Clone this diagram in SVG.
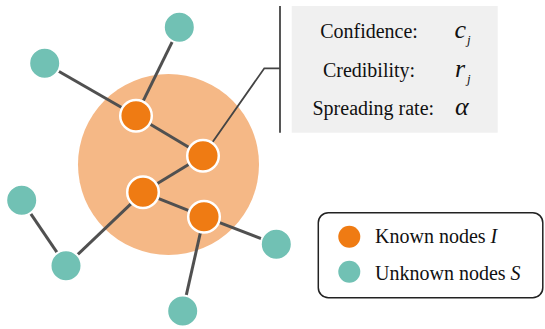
<svg xmlns="http://www.w3.org/2000/svg" width="545" height="329" viewBox="0 0 545 329">
<style>
.edge{stroke:#505050;stroke-width:3;fill:none}
.known{fill:#EF7B13;stroke:#fff;stroke-width:2.5}
.unknown{fill:#71C1B4;stroke:#fff;stroke-width:2}
.t{font-family:"Liberation Serif","Times New Roman",serif;font-size:20px;fill:#111}
.m{font-family:"Liberation Serif","Times New Roman",serif;font-style:italic;fill:#111}
</style>
<rect width="545" height="329" fill="#fff"/>
<circle id="region" cx="168.5" cy="164.5" r="90.5" fill="#F5B886"/>
<g id="connectors">
<line class="edge" x1="179.3" y1="27.3" x2="136" y2="115.7"/>
<line class="edge" x1="44.7" y1="63.3" x2="136" y2="115.7"/>
<line class="edge" x1="136" y1="115.7" x2="203" y2="155.7"/>
<line class="edge" x1="203" y1="155.7" x2="143" y2="192.3"/>
<line class="edge" x1="143" y1="192.3" x2="66" y2="265.7"/>
<line class="edge" x1="21.7" y1="200.3" x2="66" y2="265.7"/>
<line class="edge" x1="143" y1="192.3" x2="204" y2="216.7"/>
<line class="edge" x1="204" y1="216.7" x2="276.3" y2="244.3"/>
<line class="edge" x1="204" y1="216.7" x2="182.7" y2="311"/>
<polyline points="203,155.7 264.3,68.3 280,68.3" fill="none" stroke="#444" stroke-width="1.8"/>
<line x1="280" y1="6" x2="280" y2="132.7" stroke="#444" stroke-width="1.8"/>
</g>
<g id="n-t1"><circle class="unknown" cx="179.3" cy="27.3" r="15.5"/></g>
<g id="n-t2"><circle class="unknown" cx="44.7" cy="63.3" r="15.5"/></g>
<g id="n-t3"><circle class="unknown" cx="21.7" cy="200.3" r="15.5"/></g>
<g id="n-t4"><circle class="unknown" cx="66" cy="265.7" r="15.5"/></g>
<g id="n-t5"><circle class="unknown" cx="276.3" cy="244.3" r="15.5"/></g>
<g id="n-t6"><circle class="unknown" cx="182.7" cy="311" r="15.5"/></g>
<g id="n-a"><circle class="known" cx="136" cy="115.7" r="15.8"/></g>
<g id="n-b"><circle class="known" cx="203" cy="155.7" r="15.8"/></g>
<g id="n-c"><circle class="known" cx="143" cy="192.3" r="15.8"/></g>
<g id="n-d"><circle class="known" cx="204" cy="216.7" r="15.8"/></g>
<g id="info">
<rect x="291.7" y="6" width="206" height="126.7" fill="#F0F0F0"/>
<text class="t" x="369" y="37.7" text-anchor="middle">Confidence:</text>
<text class="t" x="369" y="76.7" text-anchor="middle">Credibility:</text>
<text class="t" x="373.3" y="115" text-anchor="middle">Spreading rate:</text>
<text class="m" x="454.5" y="37.7" font-size="26">c</text>
<text class="m" x="467" y="44" font-size="13">j</text>
<text class="m" x="455" y="76.7" font-size="26">r</text>
<text class="m" x="467" y="83" font-size="13">j</text>
<text class="m" x="455" y="115" font-size="26">α</text>
</g>
<g id="legend">
<rect x="318.3" y="212.7" width="224.5" height="85" rx="10" ry="10" fill="#fff" stroke="#222" stroke-width="1.5"/>
<circle cx="349.3" cy="236.7" r="11" fill="#EF7B13"/>
<circle cx="349.3" cy="271.7" r="11" fill="#71C1B4"/>
<text class="t" x="375" y="243.3">Known nodes <tspan font-style="italic">I</tspan></text>
<text class="t" x="375" y="280">Unknown nodes <tspan font-style="italic">S</tspan></text>
</g>
</svg>
